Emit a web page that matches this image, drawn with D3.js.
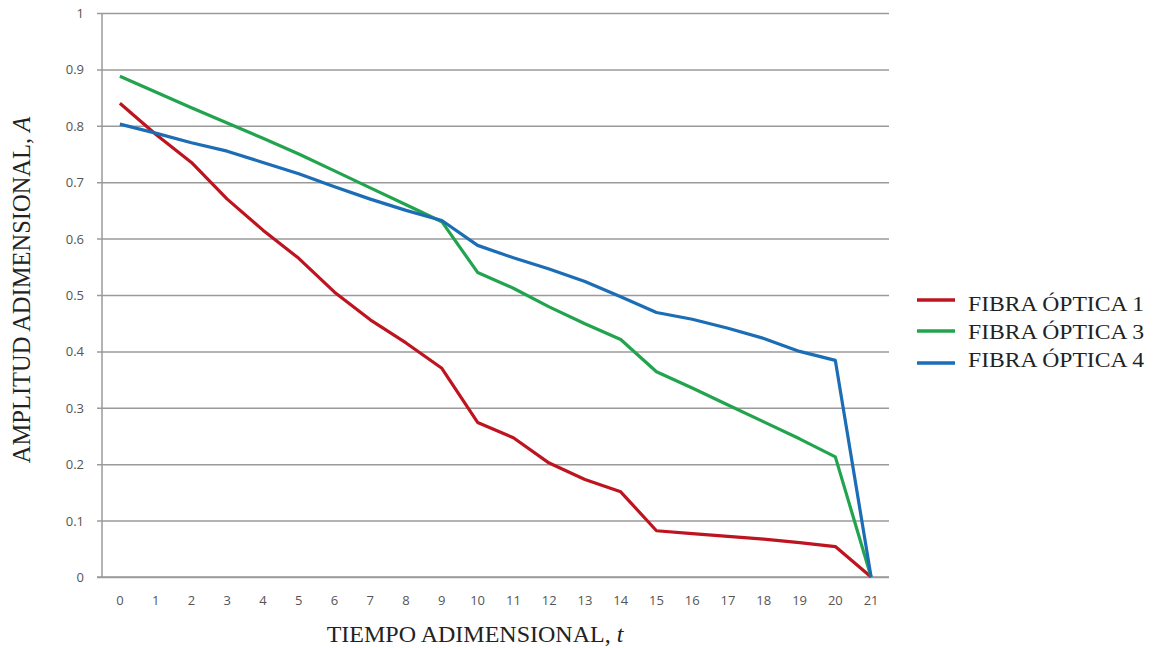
<!DOCTYPE html>
<html>
<head>
<meta charset="utf-8">
<script src="https://cdn.jsdelivr.net/npm/d3@7"></script>
<style>
  html, body { margin: 0; padding: 0; background: #fff; }
  svg { display: block; }
</style>
</head>
<body>
<svg id="chart" width="1154" height="648"></svg>
<script>
const categories = [0,1,2,3,4,5,6,7,8,9,10,11,12,13,14,15,16,17,18,19,20,21];
const fibra1 = [0.84,0.785,0.735,0.67,0.615,0.565,0.505,0.456,0.415,0.37,0.274,0.247,0.202,0.173,0.151,0.082,0.077,0.072,0.067,0.061,0.054,0];
const fibra3 = [0.888,0.86,0.832,0.805,0.778,0.75,0.72,0.69,0.66,0.63,0.54,0.512,0.479,0.449,0.421,0.364,0.335,0.305,0.275,0.245,0.213,0];
const fibra4 = [0.803,0.787,0.77,0.755,0.735,0.715,0.692,0.67,0.65,0.632,0.588,0.566,0.546,0.524,0.497,0.469,0.457,0.441,0.423,0.4,0.384,0];
const seriesNames = ["FIBRA ÓPTICA 1","FIBRA ÓPTICA 3","FIBRA ÓPTICA 4"];
const seriesColors = ["#BD1420","#22A44F","#1B6DB6"];
const yTicks = [0,0.1,0.2,0.3,0.4,0.5,0.6,0.7,0.8,0.9,1];

const seriesData = [fibra1, fibra3, fibra4];

const svg = d3.select("#chart");
const mLeft = 102, mRight = 889, mTop = 13, mBottom = 577;
const serif = "'Liberation Serif', 'Times New Roman', serif";
const sans = "'Open Sans', 'DejaVu Sans', sans-serif";

const x = d3.scaleBand().domain(categories).range([mLeft, mRight]).paddingInner(0).paddingOuter(0);
const y = d3.scaleLinear().domain([0,1]).range([mBottom, mTop]);
const cx = d => x(d) + x.bandwidth()/2;

// gridlines + y tick marks
const yAxis = d3.axisLeft(y).tickValues(yTicks).tickSize(-(mRight-mLeft)).tickPadding(0)
  .tickFormat(d => d === 0 ? "0" : d === 1 ? "1" : d3.format(".1f")(d));
const gy = svg.append("g").attr("transform", `translate(${mLeft},0)`).call(yAxis);
gy.select(".domain").remove();
gy.selectAll(".tick line").attr("x1", -5).attr("stroke", "#9a9a9a").attr("stroke-width", 1.5);
gy.selectAll(".tick text").attr("x", -18).attr("dy", "0.35em")
  .attr("font-family", sans).attr("font-size", 13).attr("fill", "#555");

// y axis line
svg.append("line").attr("x1", mLeft).attr("x2", mLeft).attr("y1", mTop).attr("y2", mBottom)
  .attr("stroke", "#9a9a9a").attr("stroke-width", 1.5);

// x axis
const xAxis = d3.axisBottom(x).tickSize(0).tickPadding(19);
const gx = svg.append("g").attr("transform", `translate(0,${mBottom})`).call(xAxis);
gx.select(".domain").attr("stroke", "#9a9a9a").attr("stroke-width", 1.5).attr("d", `M${mLeft-5},0H${mRight}`);
gx.selectAll(".tick text").attr("font-family", sans).attr("font-size", 13).attr("fill", "#555");

// lines
const line = d3.line().x((d,i) => cx(categories[i])).y(d => y(d));
seriesData.forEach((s, k) => {
  svg.append("path").datum(s).attr("d", line).attr("fill", "none")
    .attr("stroke", seriesColors[k]).attr("stroke-width", 3.2).attr("stroke-linejoin", "round");
});

// axis titles
const yt = svg.append("text").attr("transform", "translate(30,290) rotate(-90)")
  .attr("text-anchor", "middle").attr("font-family", serif)
  .attr("font-size", 24.5).attr("fill", "#222");
yt.append("tspan").text("AMPLITUD ADIMENSIONAL, ");
yt.append("tspan").attr("font-style", "italic").text("A");

const xt = svg.append("text").attr("x", 475).attr("y", 642)
  .attr("text-anchor", "middle").attr("font-family", serif)
  .attr("font-size", 24).attr("fill", "#222");
xt.append("tspan").text("TIEMPO ADIMENSIONAL, ");
xt.append("tspan").attr("font-style", "italic").text("t");

// legend
const legendLineY = [300, 331, 363];
const legendTextY = [304, 332, 360];
const lg = svg.append("g").attr("transform", "translate(917,0)");
seriesNames.forEach((n, k) => {
  lg.append("line").attr("x1", 0).attr("x2", 38).attr("y1", legendLineY[k]).attr("y2", legendLineY[k])
    .attr("stroke", seriesColors[k]).attr("stroke-width", 3.5);
  lg.append("text").attr("x", 51).attr("y", legendTextY[k]).attr("dy", "0.34em")
    .attr("font-family", serif).attr("font-size", 20)
    .attr("textLength", 176).attr("lengthAdjust", "spacingAndGlyphs")
    .attr("fill", "#222").text(n);
});
</script>
</body>
</html>
